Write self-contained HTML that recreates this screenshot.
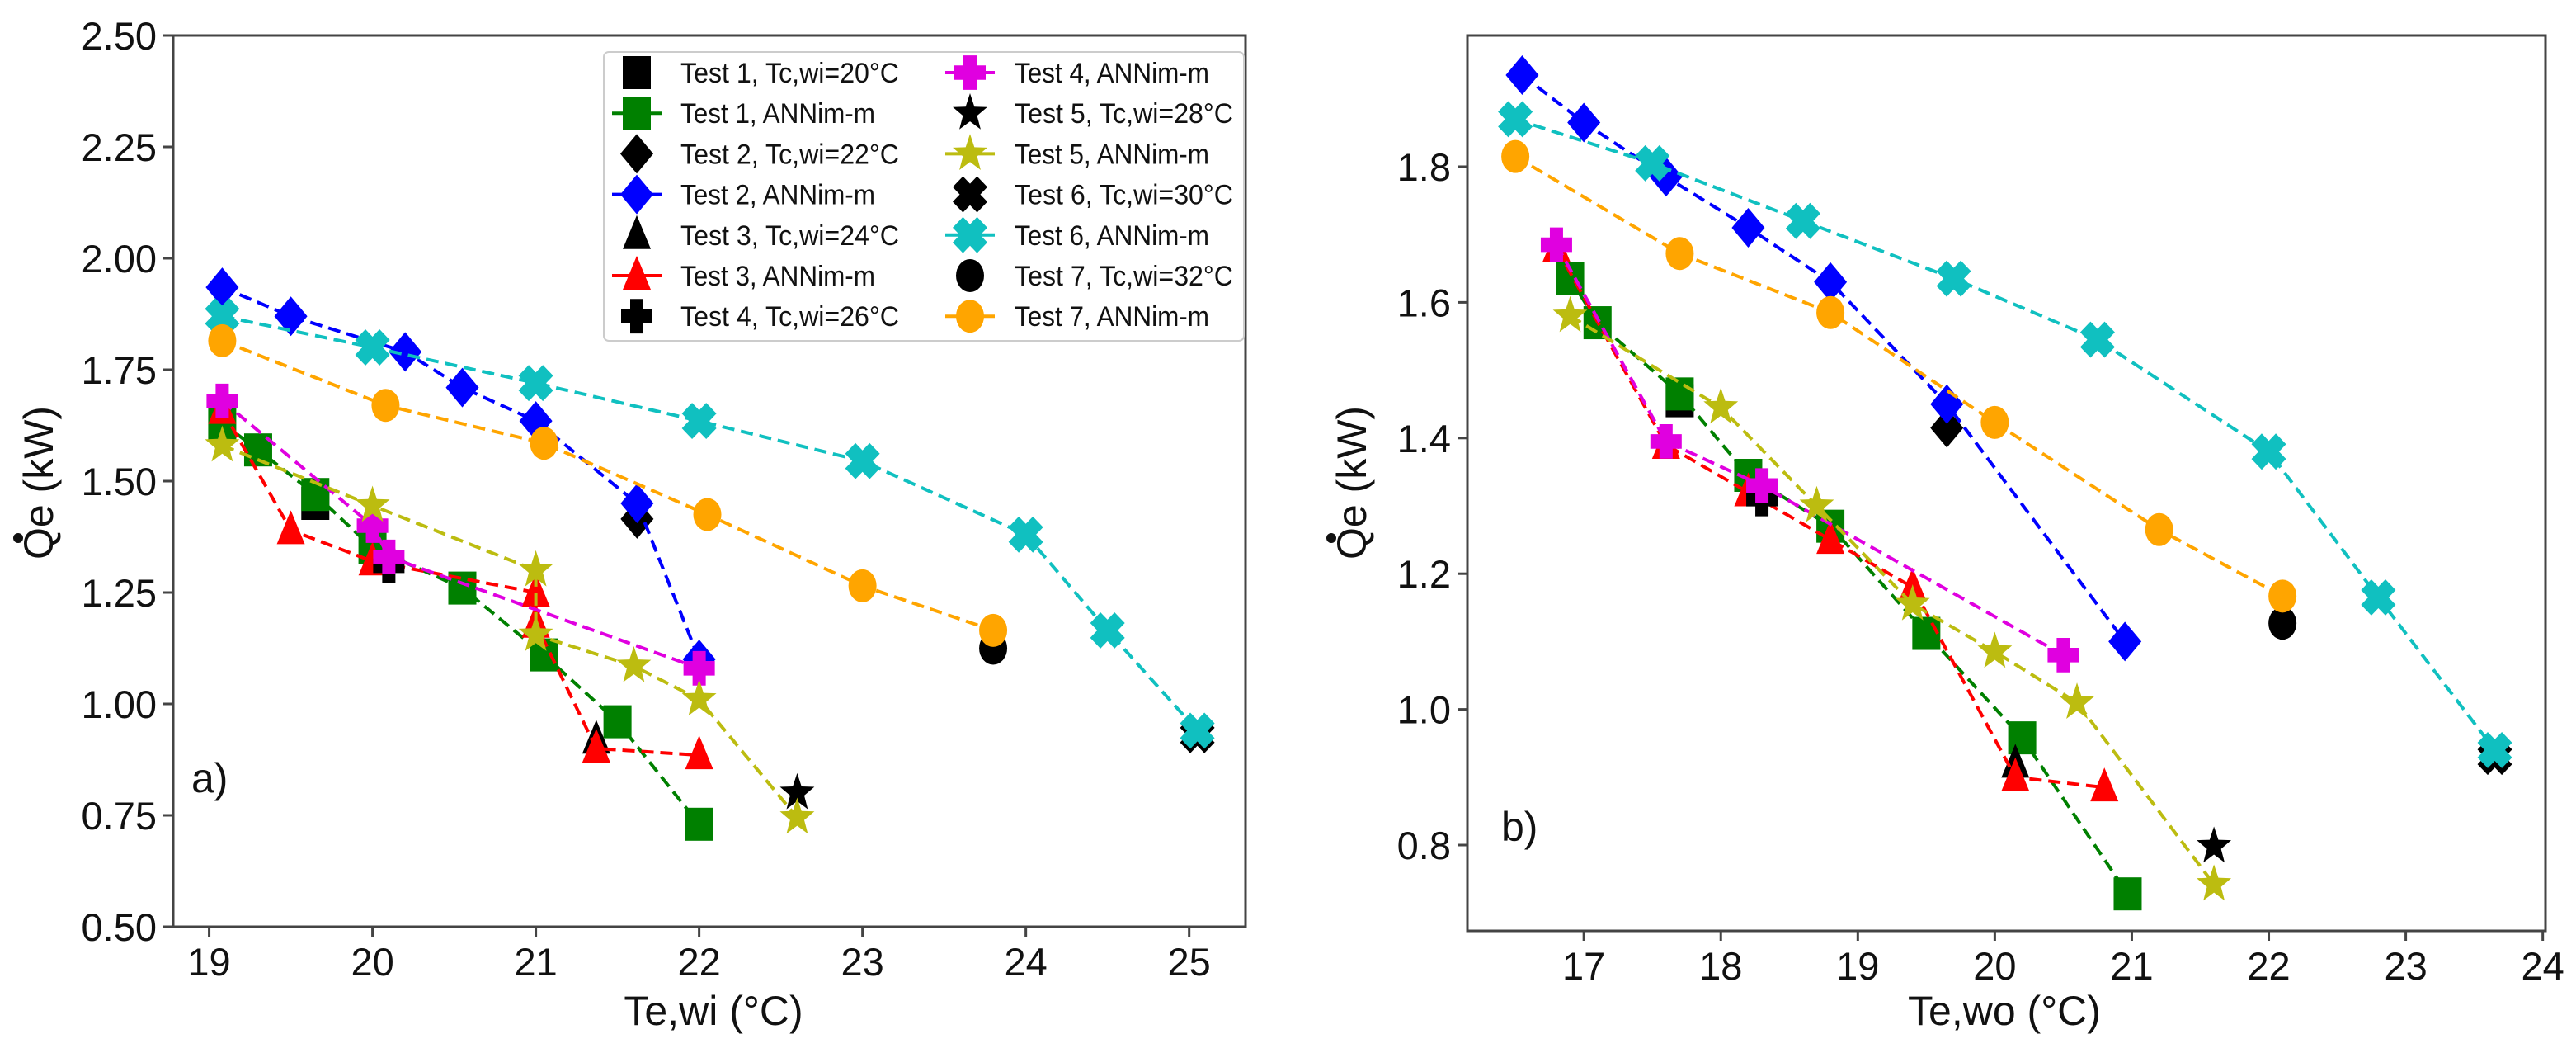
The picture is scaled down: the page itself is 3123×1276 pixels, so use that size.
<!DOCTYPE html>
<html><head><meta charset="utf-8">
<style>
html,body{margin:0;padding:0;background:#fff;}
svg{display:block;font-family:"Liberation Sans",sans-serif;}
</style></head>
<body>
<svg id="chart" width="3123" height="1276" viewBox="0 0 3123 1276">
<rect width="3123" height="1276" fill="#fff"/>
<g id="pa"></g>
<g id="pb"></g>
</svg>
<script>
// ---------- data ----------
const testNames = ["Test 1","Test 2","Test 3","Test 4","Test 5","Test 6","Test 7"];
const testTc = ["20","22","24","26","28","30","32"];
const testColors = ["green","blue","red","#e000e0","#bcbc10","#10c0c0","orange"];
const testMarkers = ["s","D","^","P","*","X","o"];

// Panel a: x = Te,wi
const aAnnX = [
 [19.08,19.3,19.65,20.0,20.55,21.05,21.5,22.0],
 [19.08,19.5,20.2,20.55,21.0,21.62,22.0],
 [19.08,19.5,20.0,21.0,21.0,21.37,22.0],
 [19.08,20.0,20.1,22.0],
 [19.08,20.0,21.0,21.0,21.6,22.0,22.6],
 [19.08,20.0,21.0,22.0,23.0,24.0,24.5,25.05],
 [19.08,20.08,21.05,22.05,23.0,23.8]];
const aAnnY = [
 [1.63,1.57,1.47,1.35,1.26,1.11,0.96,0.73],
 [1.935,1.87,1.79,1.71,1.635,1.45,1.10],
 [1.66,1.39,1.32,1.25,1.18,0.90,0.885],
 [1.68,1.40,1.33,1.08],
 [1.58,1.445,1.30,1.155,1.085,1.01,0.745],
 [1.87,1.80,1.72,1.635,1.545,1.38,1.165,0.94],
 [1.815,1.67,1.585,1.425,1.265,1.165]];
const aExpX = [19.65,21.62,21.37,20.1,22.6,25.05,23.8];
const aExpY = [1.45,1.415,0.92,1.31,0.80,0.93,1.125];

// Panel b: x = Te,wo
const bAnnX = [
 [16.9,17.1,17.7,18.2,18.8,19.5,20.2,20.97],
 [16.55,17.0,17.6,18.2,18.8,19.65,20.95],
 [16.8,17.6,18.2,18.8,19.4,20.15,20.8],
 [16.8,17.6,18.3,20.5],
 [16.9,18.0,18.7,19.4,20.0,20.6,21.6],
 [16.5,17.5,18.6,19.7,20.75,22.0,22.8,23.65],
 [16.5,17.7,18.8,20.0,21.2,22.1]];
const bAnnY = [
 [1.635,1.57,1.465,1.345,1.27,1.112,0.958,0.728],
 [1.935,1.865,1.785,1.71,1.63,1.45,1.10],
 [1.68,1.39,1.32,1.25,1.18,0.90,0.885],
 [1.685,1.395,1.33,1.08],
 [1.58,1.445,1.30,1.155,1.085,1.01,0.742],
 [1.87,1.805,1.72,1.635,1.545,1.38,1.165,0.94],
 [1.815,1.672,1.585,1.423,1.265,1.167]];
const bExpX = [17.7,19.65,20.15,18.3,21.6,23.65,22.1];
const bExpY = [1.455,1.415,0.92,1.31,0.798,0.93,1.127];

const aXTicks = [19,20,21,22,23,24,25];
const aYTicks = [0.50,0.75,1.00,1.25,1.50,1.75,2.00,2.25,2.50];
const bXTicks = [17,18,19,20,21,22,23,24];
const bYTicks = [0.8,1.0,1.2,1.4,1.6,1.8];

// ---------- helpers ----------
const NS="http://www.w3.org/2000/svg";
function mk(tag,attrs,parent){const e=document.createElementNS(NS,tag);for(const k in attrs)e.setAttribute(k,attrs[k]);if(parent)parent.appendChild(e);return e;}

function markerShape(type,cx,cy,color,parent){
  const sx=17, sy=20; let e;
  if(type==="s"){e=mk("rect",{x:cx-sx,y:cy-sy,width:2*sx,height:2*sy,fill:color},parent);}
  else if(type==="D"){e=mk("polygon",{points:`${cx},${cy-24} ${cx+20},${cy} ${cx},${cy+24} ${cx-20},${cy}`,fill:color},parent);}
  else if(type==="^"){e=mk("polygon",{points:`${cx},${cy-24} ${cx+17},${cy+17} ${cx-17},${cy+17}`,fill:color},parent);}
  else if(type==="o"){e=mk("ellipse",{cx:cx,cy:cy,rx:17,ry:20,fill:color},parent);}
  else if(type==="P"||type==="X"){
    const a=19,w=8;
    let pts=[[-w,-a],[w,-a],[w,-w],[a,-w],[a,w],[w,w],[w,a],[-w,a],[-w,w],[-a,w],[-a,-w],[-w,-w]];
    if(type==="X"){const c=Math.SQRT1_2;pts=pts.map(p=>[(p[0]-p[1])*c*1.1,(p[0]+p[1])*c*1.15]);}
    else pts=pts.map(p=>[p[0],p[1]*1.1]);
    e=mk("polygon",{points:pts.map(p=>(cx+p[0])+","+(cy+p[1])).join(" "),fill:color},parent);
  } else if(type==="*"){
    let pts=[];for(let i=0;i<10;i++){const r=i%2?9:22;const ang=-Math.PI/2+i*Math.PI/5;pts.push((cx+r*Math.cos(ang))+","+(cy+r*Math.sin(ang)*1.1));}
    e=mk("polygon",{points:pts.join(" "),fill:color},parent);
  }
  return e;
}

function panel(g,cfg){
  const X=v=>cfg.x0+(v-cfg.xmin)/(cfg.xmax-cfg.xmin)*(cfg.x1-cfg.x0);
  const Y=v=>cfg.y1-(v-cfg.ymin)/(cfg.ymax-cfg.ymin)*(cfg.y1-cfg.y0);
  const frame=mk("rect",{x:cfg.x0,y:cfg.y0,width:cfg.x1-cfg.x0,height:cfg.y1-cfg.y0,fill:"none",stroke:"#444","stroke-width":3},g);
  
  
  cfg.xt.forEach(t=>{
    const tk=mk("line",{x1:X(t),x2:X(t),y1:cfg.y1,y2:cfg.y1+12,stroke:"#444","stroke-width":3},g);
    
    
    const tl=mk("text",{x:X(t),y:cfg.y1+59,"font-size":47,"text-anchor":"middle",fill:"#111"},g);
    tl.textContent=String(t);
    
    
  });
  cfg.yt.forEach(t=>{
    const tk=mk("line",{x1:cfg.x0-12,x2:cfg.x0,y1:Y(t),y2:Y(t),stroke:"#444","stroke-width":3},g);
    
    
    const tl=mk("text",{x:cfg.x0-20,y:Y(t)+17,"font-size":47,"text-anchor":"end",fill:"#111"},g);
    tl.textContent=t.toFixed(cfg.yd);
    
    
  });
  for(let i=0;i<7;i++){
    const ex=markerShape(testMarkers[i],X(cfg.ex[i]),Y(cfg.ey[i]),"#000",g);
    
    
    const pts=cfg.ax[i].map((x,j)=>X(x)+","+Y(cfg.ay[i][j])).join(" ");
    const pl=mk("polyline",{points:pts,fill:"none",stroke:testColors[i],"stroke-width":4,"stroke-dasharray":"15,8"},g);
    
    
    cfg.ax[i].forEach((x,j)=>{
      const m=markerShape(testMarkers[i],X(x),Y(cfg.ay[i][j]),testColors[i],g);
      
      
    });
  }
  const pl=mk("text",{x:cfg.lx,y:cfg.ly,"font-size":50,fill:"#111"},g);
  pl.textContent=cfg.label;
  
  
  const xl=mk("text",{x:cfg.xlx,y:1242,"font-size":50,"text-anchor":"middle",fill:"#111"},g);
  xl.textContent=cfg.xlabel;
  
  
  const yl=mk("text",{x:0,y:0,"font-size":50,"text-anchor":"middle",fill:"#111",transform:`translate(${cfg.ylx},585) rotate(-90)`},g);
  yl.textContent="Qe (kW)";
  
  
  const dot=mk("circle",{cx:cfg.ylx-42,cy:652,r:6,fill:"#111"},g);
  
  
}

panel(document.getElementById("pa"),{x0:210,x1:1510,y0:43,y1:1123,xmin:18.78,xmax:25.345,ymin:0.5,ymax:2.5,
  xt:aXTicks,yt:aYTicks,yd:2,ax:aAnnX,ay:aAnnY,ex:aExpX,ey:aExpY,label:"a)",lx:232,ly:960,
  xlabel:"Te,wi (°C)",xlx:865,ylx:64});
panel(document.getElementById("pb"),{x0:1779,x1:3086,y0:43,y1:1128,xmin:16.15,xmax:24.02,ymin:0.6735,ymax:1.9934,
  xt:bXTicks,yt:bYTicks,yd:1,ax:bAnnX,ay:bAnnY,ex:bExpX,ey:bExpY,label:"b)",lx:1820,ly:1019,
  xlabel:"Te,wo (°C)",xlx:2430,ylx:1656});

// legend
const lg=mk("g",{},document.getElementById("pa"));


const box=mk("rect",{x:732,y:63,width:776,height:350,rx:6,fill:"#fff",stroke:"#ccc","stroke-width":2},lg);


for(let k=0;k<14;k++){
  const col=k<7?0:1, row=k%7;
  const ti=Math.floor(k/2), isAnn=k%2===1;
  const mx=col?1176:772, tx=col?1230:825, cy=88+row*49.2;
  const ent=mk("g",{},lg);
  
  
  if(isAnn){mk("line",{x1:mx-30,x2:mx+30,y1:cy,y2:cy,stroke:testColors[ti],"stroke-width":4},ent);}
  markerShape(testMarkers[ti],mx,cy,isAnn?testColors[ti]:"#000",ent);
  const t=mk("text",{x:tx,y:cy+12,"font-size":34,fill:"#111"},ent);
  t.textContent=isAnn?`${testNames[ti]}, ANNim-m`:`${testNames[ti]}, Tc,wi=${testTc[ti]}°C`;
  t.setAttribute("textLength",isAnn?236:265);
  t.setAttribute("lengthAdjust","spacingAndGlyphs");
}
</script>
</body></html>
